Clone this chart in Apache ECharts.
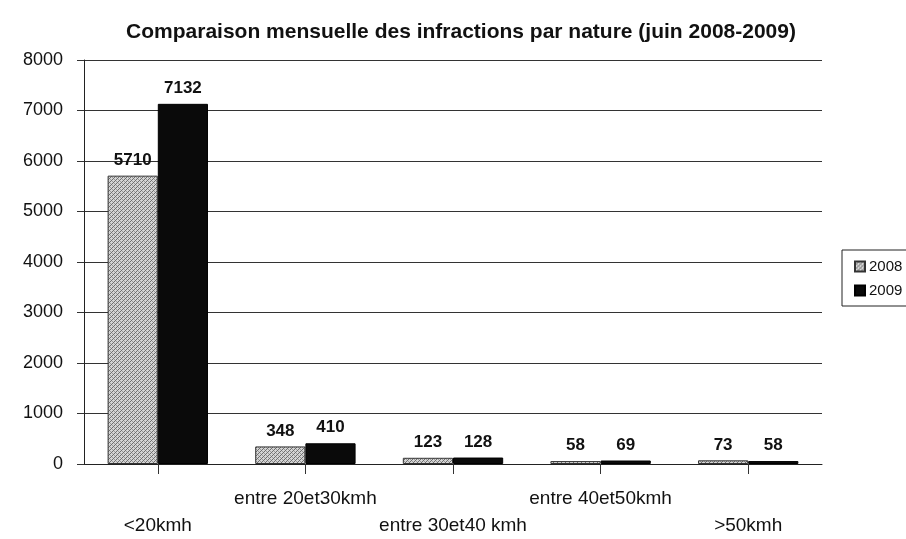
<!DOCTYPE html>
<html>
<head>
<meta charset="utf-8">
<script src="https://cdn.jsdelivr.net/npm/echarts@6.0.0/dist/echarts.min.js"></script>
<style>
  html, body { margin: 0; padding: 0; background: #fff; }
  #chart { width: 906px; height: 539px; }
</style>
</head>
<body>
<div id="chart"></div>
<script>
const categories = ['<20kmh', 'entre 20et30kmh', 'entre 30et40 kmh', 'entre 40et50kmh', '>50kmh'];
const values2008 = [5710, 348, 123, 58, 73];
const values2009 = [7132, 410, 128, 69, 58];
const yTicks = { min: 0, max: 8000, interval: 1000 };

// fine grey hatch for the 2008 bars, like the scanned print
function makeHatch() {
  const c = document.createElement('canvas');
  c.width = 4; c.height = 4;
  const ctx = c.getContext('2d');
  ctx.fillStyle = '#d4d4d4';
  ctx.fillRect(0, 0, 4, 4);
  ctx.fillStyle = '#6e6e6e';
  ctx.fillRect(0, 3, 1, 1);
  ctx.fillRect(1, 2, 1, 1);
  ctx.fillRect(2, 1, 1, 1);
  ctx.fillRect(3, 0, 1, 1);
  ctx.fillStyle = '#9a9a9a';
  ctx.fillRect(2, 3, 1, 1);
  ctx.fillRect(0, 1, 1, 1);
  return c;
}
const hatch = { image: makeHatch(), repeat: 'repeat' };

const chart = echarts.init(document.getElementById('chart'));
const font = 'Arial, "Liberation Sans", sans-serif';

const labelStyle = {
  show: true,
  position: 'top',
  distance: 7,
  fontFamily: font,
  fontWeight: 'bold',
  fontSize: 17,
  color: '#111'
};

chart.setOption({
  animation: false,
  textStyle: { fontFamily: font },
  title: {
    text: 'Comparaison mensuelle des infractions par nature (juin 2008-2009)',
    left: 456,
    textAlign: 'center',
    top: 17,
    textStyle: { fontFamily: font, fontWeight: 'bold', fontSize: 21, color: '#111' }
  },
  legend: {
    orient: 'vertical',
    left: 842,
    top: 250,
    padding: [9, 12, 8, 12],
    itemGap: 9,
    itemWidth: 10,
    itemHeight: 10,
    icon: 'rect',
    borderColor: '#222',
    borderWidth: 1,
    textStyle: { fontFamily: font, fontSize: 15, color: '#111', padding: [0, 0, 0, -1] },
    data: ['2008', '2009']
  },
  grid: { left: 84, right: 84, top: 60, bottom: 74 },
  xAxis: {
    type: 'category',
    data: categories,
    axisLine: { lineStyle: { color: '#222', width: 1 } },
    axisTick: { show: true, alignWithLabel: true, length: 10, lineStyle: { color: '#333' } },
    axisLabel: {
      interval: 0,
      margin: 21,
      fontSize: 19,
      lineHeight: 27,
      color: '#111',
      formatter: function (v, i) {
        return i % 2 === 0 ? '\n' + v : v;
      }
    }
  },
  yAxis: {
    type: 'value',
    min: yTicks.min,
    max: yTicks.max,
    interval: yTicks.interval,
    axisLine: { show: true, lineStyle: { color: '#222', width: 1 } },
    axisTick: { show: true, length: 7, lineStyle: { color: '#333' } },
    axisLabel: { fontSize: 18, color: '#111', margin: 21, formatter: function (v) { return String(v); } },
    splitLine: { show: true, lineStyle: { color: '#333', width: 1 } }
  },
  series: [
    {
      name: '2008',
      type: 'bar',
      data: values2008,
      barGap: '0%',
      barCategoryGap: '32%',
      itemStyle: { color: hatch, borderColor: '#333', borderWidth: 1 },
      label: labelStyle
    },
    {
      name: '2009',
      type: 'bar',
      data: values2009,
      itemStyle: { color: '#0a0a0a', borderColor: '#000', borderWidth: 1 },
      label: labelStyle
    }
  ]
});
</script>
</body>
</html>
